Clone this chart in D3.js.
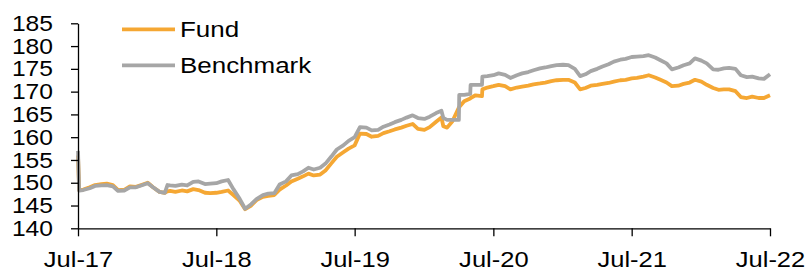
<!DOCTYPE html>
<meta charset="utf-8">
<script src="https://cdn.jsdelivr.net/npm/d3@7"></script>
<style>
body { margin: 0; background: #fff; }
.line { fill: none; stroke-width: 3.8px; stroke-linejoin: round; }
.axis text { font-family: "Liberation Sans", Arial, sans-serif; font-size: 22px; fill: #000; }
.axis path, .axis line { stroke: #000; stroke-width: 1.3px; }
.legend text { font-family: "Liberation Sans", Arial, sans-serif; font-size: 22px; fill: #000; }
</style>
<body>
<script>

// dates (semi-monthly, with a few extra points where the lines jump)
var dates = [
  "2017-07-01","2017-07-04","2017-07-15","2017-08-01","2017-08-15","2017-09-01","2017-09-15","2017-10-01","2017-10-15","2017-11-01","2017-11-15","2017-12-01","2017-12-15",
  "2018-01-01","2018-01-15","2018-02-01","2018-02-15","2018-02-22","2018-03-01","2018-03-15","2018-04-01","2018-04-15","2018-05-01","2018-05-15","2018-06-01","2018-06-15",
  "2018-07-01","2018-07-15","2018-08-01","2018-08-15","2018-09-01","2018-09-15","2018-10-01","2018-10-15","2018-11-01","2018-11-15","2018-12-01","2018-12-15",
  "2019-01-01","2019-01-15","2019-02-01","2019-02-15","2019-03-01","2019-03-15","2019-04-01","2019-04-15","2019-05-01","2019-05-15","2019-06-01","2019-06-15",
  "2019-07-01","2019-07-15","2019-08-01","2019-08-15","2019-09-01","2019-09-15","2019-10-01","2019-10-15","2019-11-01","2019-11-15","2019-12-01","2019-12-15",
  "2020-01-01","2020-01-15","2020-02-01","2020-02-15","2020-02-20","2020-03-01","2020-03-15","2020-04-01","2020-04-02","2020-04-15","2020-05-01","2020-05-02","2020-05-15","2020-06-01","2020-06-02","2020-06-15",
  "2020-07-01","2020-07-15","2020-08-01","2020-08-15","2020-09-01","2020-09-15","2020-10-01","2020-10-15","2020-11-01","2020-11-15","2020-12-01","2020-12-15",
  "2021-01-01","2021-01-15","2021-02-01","2021-02-15","2021-03-01","2021-03-15","2021-04-01","2021-04-15","2021-05-01","2021-05-15","2021-06-01","2021-06-15",
  "2021-07-01","2021-07-15","2021-08-01","2021-08-15","2021-09-01","2021-09-15","2021-10-01","2021-10-15","2021-11-01","2021-11-15","2021-12-01","2021-12-15",
  "2022-01-01","2022-01-15","2022-02-01","2022-02-15","2022-03-01","2022-03-15","2022-04-01","2022-04-15","2022-05-01","2022-05-15","2022-06-01","2022-06-15",
  "2022-07-01"
];

var fund = [
  156.0,148.4,148.5,149.0,149.5,149.7,149.8,149.5,148.4,148.5,149.2,149.1,149.5,
  150.0,149.0,148.0,147.8,148.1,148.2,148.0,148.3,148.1,148.6,148.4,147.8,147.7,
  147.8,148.0,148.3,147.3,146.0,144.2,145.0,146.2,146.9,147.1,147.3,148.5,
  149.4,150.3,150.9,151.4,152.0,151.6,151.8,152.7,154.3,155.7,156.7,157.5,
  158.2,160.8,160.7,160.1,160.3,160.9,161.3,161.7,162.1,162.5,162.9,161.8,
  161.6,162.2,163.4,164.3,162.4,162.1,163.5,166.5,166.6,167.9,168.5,168.6,169.2,169.0,170.5,170.9,
  171.2,171.5,171.2,170.5,170.9,171.1,171.3,171.6,171.8,172.0,172.3,172.5,
  172.6,172.6,172.0,170.5,170.8,171.3,171.5,171.7,171.9,172.2,172.5,172.6,
  172.9,173.0,173.3,173.6,173.1,172.6,172.0,171.2,171.3,171.7,172.0,172.6,
  172.2,171.5,170.8,170.4,170.5,170.5,170.1,168.8,168.6,168.9,168.6,168.6,
  169.2
];

var benchmark = [
  157.0,148.3,148.4,148.8,149.3,149.4,149.5,149.2,148.2,148.3,149.0,149.0,149.4,
  149.9,149.0,148.0,147.8,149.5,149.4,149.3,149.6,149.4,150.2,150.3,149.7,149.8,
  149.9,150.3,150.6,148.6,146.4,144.3,145.3,146.4,147.3,147.6,147.7,149.6,
  150.3,151.6,151.9,152.5,153.3,152.9,153.3,154.2,155.8,157.3,158.2,159.2,
  160.0,162.2,162.1,161.5,161.6,162.3,162.8,163.3,163.8,164.3,164.8,164.2,
  164.0,164.5,165.3,165.8,164.2,163.8,163.8,163.8,169.3,169.3,169.5,171.5,171.5,171.5,173.3,173.4,
  173.6,174.0,173.7,173.0,173.6,174.0,174.3,174.7,175.1,175.3,175.6,175.8,
  175.9,175.8,175.0,173.4,173.8,174.5,175.0,175.5,176.0,176.6,177.0,177.2,
  177.6,177.7,177.8,178.0,177.5,176.9,176.2,174.9,175.3,175.8,176.2,177.3,
  176.8,176.2,174.9,174.8,175.1,175.2,175.0,173.6,173.2,173.3,172.9,172.8,
  173.8
];

var yTicks = [140, 145, 150, 155, 160, 165, 170, 175, 180, 185];
var xTicks = ["2017-07-01","2018-07-01","2019-07-01","2020-07-01","2021-07-01","2022-07-01"];

var seriesNames = ["Fund", "Benchmark"];
var seriesColors = ["#F5A733", "#A6A6A6"];

var width = 809, height = 271;
var parseDate = d3.timeParse("%Y-%m-%d");
var axisStretch = 1.12, legendStretch = 1.18;

var x = d3.scaleTime()
    .domain([parseDate("2017-07-01"), parseDate("2022-07-01")])
    .range([78, 770]);
var y = d3.scaleLinear().domain([140, 185]).range([228.3, 23.3]);

var svg = d3.select("body").append("svg")
    .attr("width", width)
    .attr("height", height);

var fundData = dates.map(function(d, i) { return {date: parseDate(d), value: fund[i]}; });
var benchData = dates.map(function(d, i) { return {date: parseDate(d), value: benchmark[i]}; });

var valueline = d3.line()
    .x(function(d) { return x(d.date); })
    .y(function(d) { return y(d.value); });

// fund first, benchmark drawn on top
svg.append("path")
    .datum(fundData)
    .attr("class", "line")
    .style("stroke", seriesColors[0])
    .attr("d", valueline);

svg.append("path")
    .datum(benchData)
    .attr("class", "line")
    .style("stroke", seriesColors[1])
    .attr("d", valueline);

// y axis
var yAxis = svg.append("g")
    .attr("class", "axis")
    .attr("transform", "translate(78,0)")
    .call(d3.axisLeft(y).tickValues(yTicks).tickSize(7).tickSizeOuter(0).tickFormat(d3.format("d")));
yAxis.selectAll("text")
    .attr("x", -25 / axisStretch)
    .attr("transform", "scale(" + axisStretch + ",1)");

// x axis
var xAxis = svg.append("g")
    .attr("class", "axis")
    .attr("transform", "translate(0,228.3)")
    .call(d3.axisBottom(x).tickValues(xTicks.map(parseDate)).tickSize(8).tickSizeOuter(0)
      .tickPadding(15).tickFormat(d3.timeFormat("%b-%y")));
xAxis.selectAll("text")
    .attr("transform", "scale(1.16,1)");

// legend
var legend = svg.append("g").attr("class", "legend");
seriesNames.forEach(function(name, i) {
  var ly = 29.3 + i * 36;
  legend.append("line")
      .attr("x1", 122).attr("x2", 175)
      .attr("y1", ly).attr("y2", ly)
      .style("stroke", seriesColors[i])
      .style("stroke-width", 3.8);
  legend.append("text")
      .attr("x", 180 / legendStretch)
      .attr("y", ly + 8)
      .attr("transform", "scale(" + legendStretch + ",1)")
      .text(name);
});

</script>
</body>
